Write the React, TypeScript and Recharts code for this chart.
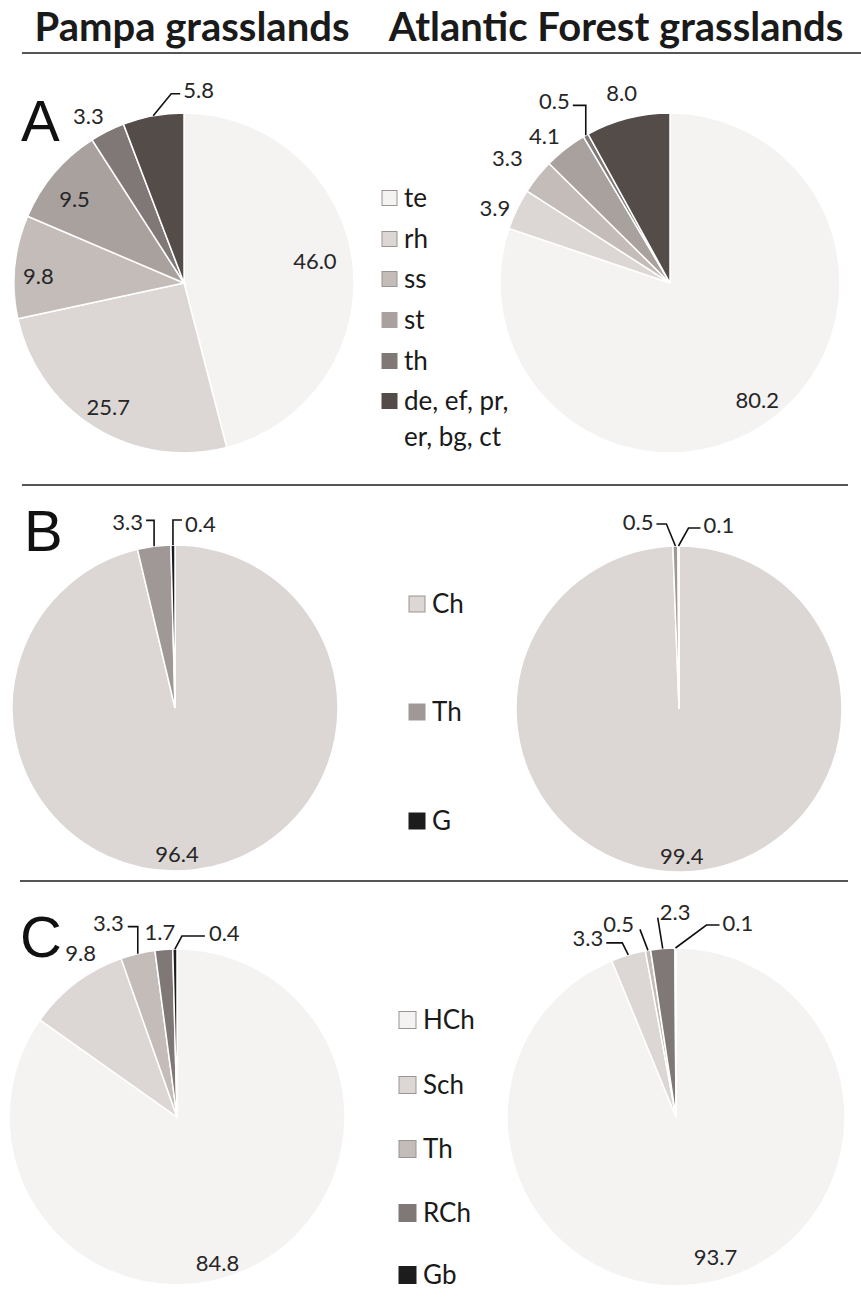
import React from "react";
import { PieChart, Pie, Cell } from "recharts";

// A: life forms
const LIFE_FORMS = ["te", "rh", "ss", "st", "th", "de, ef, pr, er, bg, ct"];
const PAMPA_LIFE = [46.0, 25.7, 9.8, 9.5, 3.3, 5.8];
const ATLANTIC_LIFE = [80.2, 3.9, 3.3, 4.1, 0.5, 8.0];
const LIFE_COLORS = ["#f5f3f2", "#dcd7d5", "#c3bcb9", "#a9a19e", "#7f7877", "#534c49"];

// B: growth forms
const GROWTH_FORMS = ["Ch", "Th", "G"];
const PAMPA_GROWTH = [96.4, 3.3, 0.4];
const ATLANTIC_GROWTH = [99.4, 0.5, 0.1];
const GROWTH_COLORS = ["#dcd7d5", "#a09896", "#1c1c1c"];

// C: subforms
const SUBFORMS = ["HCh", "Sch", "Th", "RCh", "Gb"];
const PAMPA_SUB = [84.8, 9.8, 3.3, 1.7, 0.4];
const ATLANTIC_SUB = [93.7, 3.3, 0.5, 2.3, 0.1];
const SUB_COLORS = ["#f5f3f2", "#dcd7d5", "#c3bcb9", "#7f7877", "#1c1c1c"];

const TITLES = ["Pampa grasslands", "Atlantic Forest grasslands"];

type LabelPos = {
  r?: number;
  dx?: number;
  dy?: number;
  leader?: [number, number][];
  anchor?: "start" | "middle" | "end";
};

const PAMPA_A_LABELS: LabelPos[] = [
  { r: 0.8, dx: -4, dy: -5 },
  { r: 0.85 },
  { r: 0.86, dy: 6 },
  { r: 0.82, dx: -3, dy: 5 },
  { r: 1, dx: -19, dy: -16 },
  { leader: [[0, 0], [18, -22], [27, -22]], dx: 3, dy: -4, anchor: "start" },
];
const ATLANTIC_A_LABELS: LabelPos[] = [
  { r: 0.84, dx: 4 },
  { r: 1, dx: -22, dy: -2 },
  { r: 1, dx: -30, dy: -19 },
  { r: 1, dx: -21, dy: -14 },
  { leader: [[0, 0], [0, -30], [-13, -30]], dx: -3, dy: -5, anchor: "end" },
  { r: 1, dx: -6, dy: -26 },
];
const PAMPA_B_LABELS: LabelPos[] = [
  { r: 0.9, dx: -15 },
  { leader: [[0, 0], [0, -26], [-8, -26]], dx: -3, dy: 1, anchor: "end" },
  { leader: [[0, 0], [0, -25], [9, -25]], dx: 3, dy: 3, anchor: "start" },
];
const ATLANTIC_B_LABELS: LabelPos[] = [
  { r: 0.9 },
  { leader: [[0, 0], [-9, -22], [-19, -22]], dx: -3, dy: -3, anchor: "end" },
  { leader: [[0, 0], [10, -18], [22, -18]], dx: 3, dy: -4, anchor: "start" },
];
const PAMPA_C_LABELS: LabelPos[] = [
  { r: 0.9, dx: -29, dy: 11 },
  { r: 1, dx: 5, dy: -30 },
  { leader: [[0, 0], [0, -27], [-10, -27]], dx: -4, dy: -4, anchor: "end" },
  { r: 1, dx: -4, dy: -18 },
  { leader: [[0, 0], [7, -13], [30, -13]], dx: 4, dy: -4, anchor: "start" },
];
const ATLANTIC_C_LABELS: LabelPos[] = [
  { r: 0.9, dx: 10, dy: -10 },
  { leader: [[0, 0], [-6, -12], [-22, -12]], dx: -3, dy: -5, anchor: "end" },
  { leader: [[0, 0], [-8, -21]], dx: -6, dy: -6, anchor: "end" },
  { leader: [[0, 0], [-5, -31]], dx: 2, dy: -6, anchor: "start" },
  { leader: [[0, 0], [31, -23], [44, -23]], dx: 3, dy: -3, anchor: "start" },
];

const W = 861;
const H = 1299;
const LABEL_FONT = "Lato, 'Open Sans', sans-serif";
const LETTER_FONT = "'Liberation Sans', Arial, sans-serif";
const RAD = Math.PI / 180;

const toSlices = (names: string[], values: number[]) =>
  names.map((name, i) => ({ name, value: values[i] }));

// value labels, placed radially or hung on a short leader line
function makeLabel(layout: LabelPos[]) {
  return (p: any) => {
    const spec = layout[p.index] ?? { r: 0.8 };
    const cos = Math.cos(-p.midAngle * RAD);
    const sin = Math.sin(-p.midAngle * RAD);
    const text = Number(p.value).toFixed(1);
    const common = {
      fontFamily: LABEL_FONT,
      fontSize: 22,
      fill: "#262626",
      dominantBaseline: "central" as const,
    };
    if (spec.leader) {
      const ex = p.cx + p.outerRadius * cos;
      const ey = p.cy + p.outerRadius * sin;
      const pts = spec.leader.map(([x, y]) => [ex + x, ey + y]);
      const last = pts[pts.length - 1];
      return (
        <g key={`lbl-${p.index}`}>
          <polyline
            points={pts.map((q) => q.join(",")).join(" ")}
            fill="none"
            stroke="#111"
            strokeWidth={1.6}
          />
          <text
            {...common}
            x={last[0] + (spec.dx ?? 0)}
            y={last[1] + (spec.dy ?? 0)}
            textAnchor={spec.anchor ?? "middle"}
          >
            {text}
          </text>
        </g>
      );
    }
    const rr = p.outerRadius * (spec.r ?? 0.8);
    return (
      <text
        key={`lbl-${p.index}`}
        {...common}
        x={p.cx + rr * cos + (spec.dx ?? 0)}
        y={p.cy + rr * sin + (spec.dy ?? 0)}
        textAnchor="middle"
      >
        {text}
      </text>
    );
  };
}

interface PieSpec {
  id: string;
  names: string[];
  values: number[];
  colors: string[];
  labels: LabelPos[];
  cx: number;
  cy: number;
  r: number;
}

const PIES: PieSpec[] = [
  { id: "pa", names: LIFE_FORMS, values: PAMPA_LIFE, colors: LIFE_COLORS, labels: PAMPA_A_LABELS, cx: 184, cy: 283, r: 170 },
  { id: "aa", names: LIFE_FORMS, values: ATLANTIC_LIFE, colors: LIFE_COLORS, labels: ATLANTIC_A_LABELS, cx: 670, cy: 283, r: 170 },
  { id: "pb", names: GROWTH_FORMS, values: PAMPA_GROWTH, colors: GROWTH_COLORS, labels: PAMPA_B_LABELS, cx: 175, cy: 708, r: 163 },
  { id: "ab", names: GROWTH_FORMS, values: ATLANTIC_GROWTH, colors: GROWTH_COLORS, labels: ATLANTIC_B_LABELS, cx: 679, cy: 709, r: 163 },
  { id: "pc", names: SUBFORMS, values: PAMPA_SUB, colors: SUB_COLORS, labels: PAMPA_C_LABELS, cx: 177, cy: 1117, r: 168 },
  { id: "ac", names: SUBFORMS, values: ATLANTIC_SUB, colors: SUB_COLORS, labels: ATLANTIC_C_LABELS, cx: 676, cy: 1117, r: 169 },
];

interface LegendSpec {
  names: string[];
  colors: string[];
  x: number;
  rows: number[];
  box: number;
}

const LEGENDS: LegendSpec[] = [
  { names: LIFE_FORMS, colors: LIFE_COLORS, x: 382, rows: [198, 239, 279, 320, 361, 401], box: 15 },
  { names: GROWTH_FORMS, colors: GROWTH_COLORS, x: 409, rows: [604, 712, 821], box: 16 },
  { names: SUBFORMS, colors: SUB_COLORS, x: 399, rows: [1020, 1085, 1149, 1213, 1275], box: 17 },
];

const isLight = (hex: string) => parseInt(hex.slice(1, 3), 16) > 0xc0;

const Legend: React.FC<{ spec: LegendSpec }> = ({ spec }) => (
  <g>
    {spec.names.map((name, i) => {
      const y = spec.rows[i];
      const lines = name.length > 12 ? ["de, ef, pr,", "er, bg, ct"] : [name];
      return (
        <g key={name}>
          <rect
            x={spec.x}
            y={y - spec.box / 2}
            width={spec.box}
            height={spec.box}
            fill={spec.colors[i]}
            stroke={isLight(spec.colors[i]) ? "#9a9492" : spec.colors[i]}
            strokeWidth={1}
          />
          {lines.map((ln, j) => (
            <text
              key={ln}
              x={spec.x + spec.box + 7}
              y={y + 9 + j * 36}
              fontFamily={LABEL_FONT}
              fontSize={26}
              fill="#1a1a1a"
            >
              {ln}
            </text>
          ))}
        </g>
      );
    })}
  </g>
);

export default function App() {
  return (
    <div style={{ position: "absolute", left: 0, top: 0, width: W, height: H, background: "#fff", overflow: "hidden" }}>
      <PieChart width={W} height={H} margin={{ top: 0, right: 0, bottom: 0, left: 0 }}>
        {PIES.map((p) => (
          <Pie
            key={p.id}
            data={toSlices(p.names, p.values)}
            dataKey="value"
            nameKey="name"
            cx={p.cx}
            cy={p.cy}
            outerRadius={p.r}
            startAngle={90}
            endAngle={-270}
            stroke="#ffffff"
            strokeWidth={1.5}
            label={makeLabel(p.labels)}
            labelLine={false}
            isAnimationActive={false}
          >
            {p.names.map((n, i) => (
              <Cell key={n} fill={p.colors[i]} />
            ))}
          </Pie>
        ))}
      </PieChart>

      {/* headings, panel letters, dividers and legends */}
      <svg
        width={W}
        height={H}
        style={{ position: "absolute", left: 0, top: 0, pointerEvents: "none" }}
      >
        <text x={192} y={41} textAnchor="middle" fontFamily={LABEL_FONT} fontWeight={700} fontSize={40} fill="#1a1a1a">
          {TITLES[0]}
        </text>
        <text x={616} y={41} textAnchor="middle" fontFamily={LABEL_FONT} fontWeight={700} fontSize={40} fill="#1a1a1a">
          {TITLES[1]}
        </text>
        <line x1={22} x2={861} y1={53} y2={53} stroke="#555" strokeWidth={2} />
        <line x1={22} x2={848} y1={485} y2={485} stroke="#555" strokeWidth={2} />
        <line x1={20} x2={848} y1={881} y2={881} stroke="#555" strokeWidth={2} />

        <text x={21} y={141} fontFamily={LETTER_FONT} fontSize={58} fill="#111">A</text>
        <text x={24} y={551} fontFamily={LETTER_FONT} fontSize={58} fill="#111">B</text>
        <text x={20} y={957} fontFamily={LETTER_FONT} fontSize={58} fill="#111">C</text>

        {LEGENDS.map((l, i) => (
          <Legend key={i} spec={l} />
        ))}
      </svg>
    </div>
  );
}
